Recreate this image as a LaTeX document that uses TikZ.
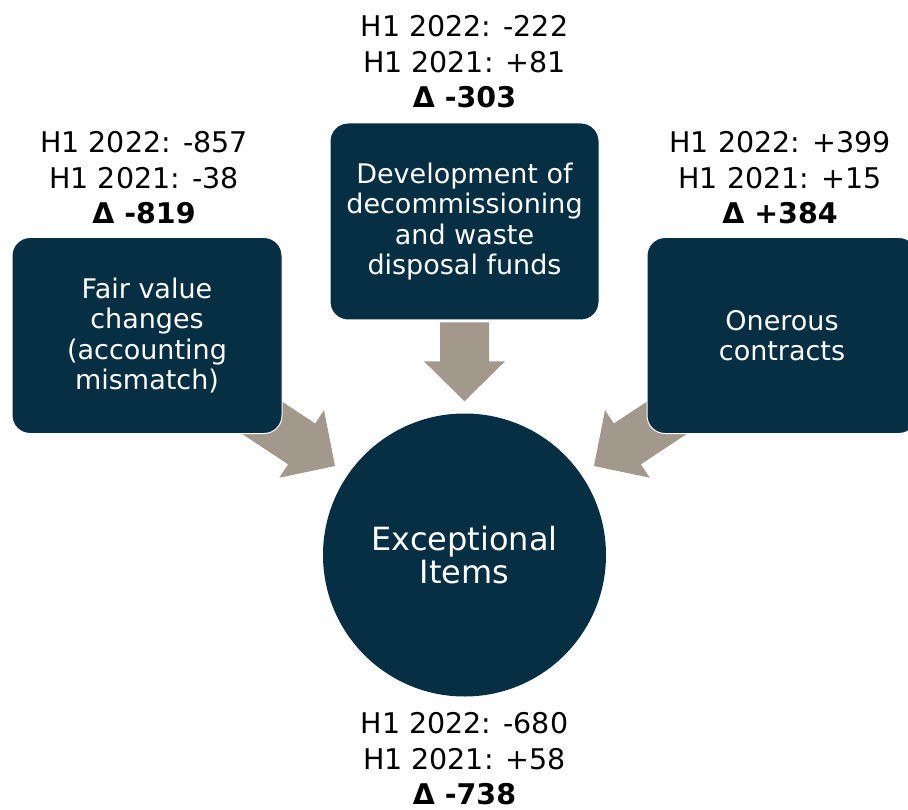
\documentclass[tikz,border=0pt]{standalone}
\usepackage{fontspec}
\setmainfont{DejaVu Sans}
\usetikzlibrary{calc}
\definecolor{navy}{HTML}{072F43}
\definecolor{taupe}{HTML}{A2998C}
\tikzset{
  itembox/.style={rectangle, rounded corners=18pt, fill=navy, draw=white, line width=1pt,
    text=white, align=center, minimum width=270pt, minimum height=196pt, inner sep=0pt,
    font=\fontsize{27}{30.5}\selectfont},
  hub/.style={circle, fill=navy, text=white, align=center, minimum size=283pt, inner sep=0pt,
    font=\fontsize{32}{33}\selectfont},
  figs/.style={align=center, inner sep=0pt, text=black, font=\fontsize{28.5}{35.5}\selectfont},
  fatarrow/.style={fill=taupe},
}
% block arrow: tip coordinate, direction angle, total length
\newcommand\blockarrow[3]{%
  \fill[fatarrow, shift={(#1)}, rotate=#2]
    (-#3,-24.5) -- (-40,-24.5) -- (-40,-40.5) -- (0,0) -- (-40,40.5) -- (-40,24.5) -- (-#3,24.5) -- cycle;}
\begin{document}
\begin{tikzpicture}[x=1pt, y=-1pt]
  \useasboundingbox (0,0) rectangle (908,810);
  \fill[white] (0,0) rectangle (908,810);
  \clip (0,0) rectangle (908,810);

  % central circle
  \node[hub] (hub) at (464.5,555) {Exceptional\\Items};

  % arrow tips around the circle
  \coordinate (tipM) at ($(hub.north)+(0,-12)$);
  \coordinate (tipL) at ($(hub.center)+(-129.5,-89)$);
  \coordinate (tipR) at ($(hub.center)+(129.5,-89)$);
  \blockarrow{tipM}{-90}{79}
  \blockarrow{tipL}{-33.5}{95}
  \blockarrow{tipR}{-146.5}{95}

  % contributing items
  \node[itembox] (fair) at (147,335.5) {Fair value\\changes\\(accounting\\mismatch)};
  \node[itembox, minimum width=269pt, minimum height=197pt] (decom) at (464.5,221.5)
    {Development of\\decommissioning\\and waste\\disposal funds};
  \node[itembox] (oner) at (782,335.5) {Onerous\\contracts};

  % figures
  \node[figs] (fairfig) at (144,178) {H1 2022: -857\\H1 2021: -38\\\textbf{Δ -819}};
  \node[figs] (decomfig) at (464.5,62) {H1 2022: -222\\H1 2021: +81\\\textbf{Δ -303}};
  \node[figs] (onerfig) at (780,178) {H1 2022: +399\\H1 2021: +15\\\textbf{Δ +384}};
  \node[figs] (hubfig) at (464.5,759) {H1 2022: -680\\H1 2021: +58\\\textbf{Δ -738}};
\end{tikzpicture}
\end{document}
